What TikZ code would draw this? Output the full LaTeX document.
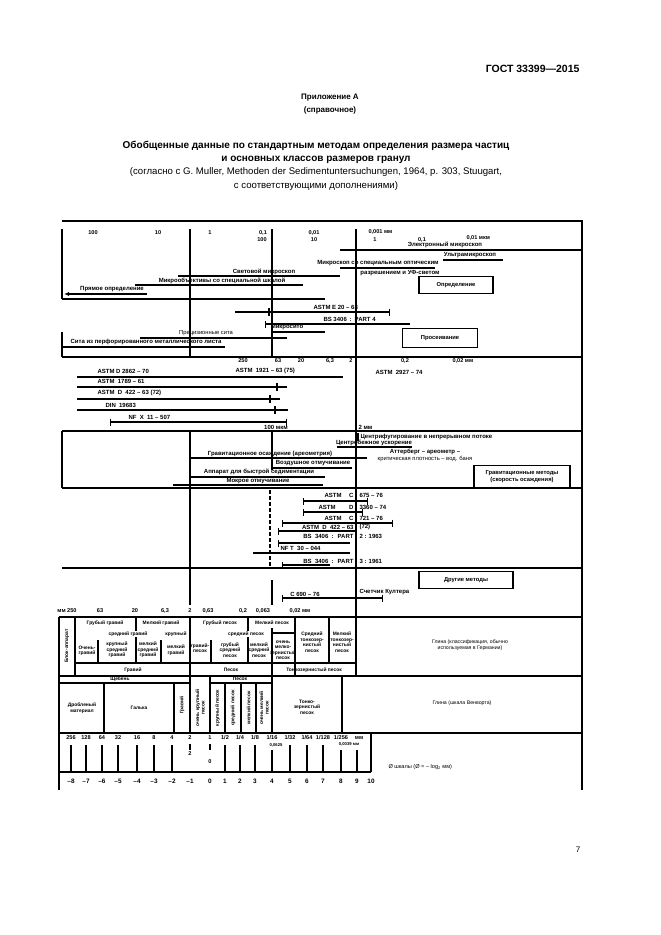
\documentclass[tikz,border=0pt]{standalone}
\usepackage{fontspec}
\setmainfont{Liberation Sans}
\usetikzlibrary{arrows.meta}
\usetikzlibrary{positioning}

\begin{document}
\begin{tikzpicture}[x=1pt, y=-1pt,
    lbl/.style={font=\fontsize{6}{6.6}\selectfont\bfseries, inner sep=0.3pt},
    thinlbl/.style={font=\fontsize{5.8}{6.4}\selectfont, inner sep=0.3pt},
    num/.style={font=\fontsize{5.6}{6.2}\selectfont\bfseries, inner sep=0.3pt},
    cell/.style={font=\fontsize{4.9}{5.5}\selectfont\bfseries, inner sep=0pt, align=center},
    hcell/.style={cell, fill=white, inner sep=0.6pt},
    vcell/.style={cell, rotate=90},
    method/.style={draw, line width=1.3pt, inner sep=0pt, align=center,
      font=\fontsize{5.8}{6.8}\selectfont\bfseries},
    frm/.style={line width=1.5pt},
    rng/.style={line width=1.1pt},
    rngb/.style={rng, {Bar[width=7pt]}-{Bar[width=7pt]}},
    rngl/.style={rng, {Bar[width=7pt]}-},
    rngr/.style={rng, -{Bar[width=7pt]}},
  ]
  \fill[white] (0,0) rectangle (661,935);
  \useasboundingbox (0,0) rectangle (661,935);

  % Page heading
  \node[anchor=east, font=\fontsize{10.5}{12}\selectfont\bfseries] (gost) at (583,69) {ГОСТ 33399—2015};
  \node[font=\fontsize{8}{13}\selectfont\bfseries, align=center] (annex) at (330,104.5) {Приложение А\\(справочное)};
  \node[font=\fontsize{10}{13}\selectfont\bfseries, align=center] (title) at (316,152.5)
    {Обобщенные данные по стандартным методам определения размера частиц\\и основных классов размеров гранул};
  \node[font=\fontsize{9.6}{13.5}\selectfont, align=center] (source) at (316,179)
    {(согласно с G. Muller, Methoden der Sedimentuntersuchungen, 1964, p. 303, Stuugart,\\с соответствующими дополнениями)};
  \node[font=\fontsize{8}{10}\selectfont] (page) at (578,850) {7};

  % Frame and separators
  \draw[frm] (62,221) -- (582,221) -- (582,790);
  \draw[frm] (62,229) -- (62,299);
  \draw[frm] (62,332) -- (62,357);
  \draw[frm] (62,431) -- (62,488);
  \draw[frm] (59,617) -- (59,790);
  \foreach \y/\xa in {357/62, 431/62, 488/62, 568/62, 617/59, 676/59, 733/59}
    \draw[frm] (\xa,\y) -- (582,\y);
  \draw[frm] (190,229) -- (190,357);
  \draw[frm] (190,431) -- (190,605);
  \draw[frm] (272,229) -- (272,357);
  \draw[frm] (272,431) -- (272,470);
  \draw[frm] (356,229) -- (356,676);

  % Microscopy scale
  \foreach \x/\t [count=\i] in {93/100, 158/10, 210/1, 263/{0,1}, 314/{0,01}}
    \node[num] (mmA\i) at (\x,233) {\t};
  \node[num, anchor=west] (mmA6) at (368,232) {0,001 мм};
  \foreach \x/\t [count=\i] in {262/100, 314/10, 375/1, 422/{0,1}}
    \node[num] (umA\i) at (\x,240) {\t};
  \node[num, anchor=west] (umA5) at (466,238) {0,01 мкм};

  % Direct determination
  \node[lbl] (elmic) at (445,245) {Электронный микроскоп};
  \draw[rng] (340,250) -- (582,250);
  \node[lbl] (ultra) at (470,255) {Ультрамикроскоп};
  \draw[rng] (443,260) -- (503,260);
  \node[lbl] (uvmic) at (378,263) {Микроскоп со специальным оптическим};
  \draw[rng] (340,268) -- (435,268);
  \node[lbl] (uvmic2) at (400,273) {разрешением и УФ-светом};
  \node[lbl] (light) at (264,272) {Световой микроскоп};
  \draw[rng] (178,276) -- (340,276);
  \node[lbl] (micro) at (222,281) {Микрообъективы со специальной шкалой};
  \draw[rng] (135,285) -- (303,285);
  \node[lbl] (direct) at (112,289) {Прямое определение};
  \draw[rng, {Latex[length=5pt,width=4pt]}-] (64,294) -- (147,294);
  \draw[frm] (62,299) -- (325,299);
  \node[method, minimum width=74pt, minimum height=17pt] (detbox) at (456,285) {Определение};

  % Sieving
  \node[lbl, anchor=west] (astmE) at (313,307) {ASTM E 20 – 68};
  \draw[rngr] (235,312) -- (390,312);
  \draw[rng] (269,308) -- (269,316);
  \node[lbl, anchor=west] (bs4) at (323,319) {BS 3406 \,:\, PART 4};
  \draw[rngl] (265,324) -- (410,324);
  \node[lbl] (msieve) at (287,327) {Микросито};
  \draw[rng] (271,332) -- (325,332);
  \node[thinlbl] (prec) at (206,333) {Прецизионные сита};
  \draw[rng] (140,338) -- (287,338);
  \node[lbl] (perf) at (146,342) {Сита из перфорированного металлического листа};
  \draw[rng] (62,347) -- (225,347);
  \node[method, minimum width=75pt, minimum height=19pt] (sievebox) at (440,338) {Просеивание};

  % Sieving standards
  \foreach \x/\t [count=\i] in {243/250, 278/63, 301/20, 330/{6,3}, 351/2, 405/{0,2}}
    \node[num] (mmC\i) at (\x,361) {\t};
  \node[num, anchor=west] (mmC7) at (452,361) {0,02 мм};
  \node[lbl, anchor=west] (astm2862) at (97,371) {ASTM D 2862 – 70};
  \node[lbl, anchor=west] (astm1921) at (235,371) {ASTM \ 1921 – 63 (75)};
  \draw[rng] (77,377) -- (343,377);
  \node[lbl, anchor=west] (astm2927) at (375,372) {ASTM \ 2927 – 74};
  \node[lbl, anchor=west] (astm1789) at (97,381) {ASTM \ 1789 – 61};
  \draw[rng] (77,387) -- (287,387);
  \draw[rng] (277,383) -- (277,391);
  \node[lbl, anchor=west] (astm422a) at (97,393) {ASTM \ D \ 422 – 63 (72)};
  \draw[rng] (77,399) -- (280,399);
  \draw[rng] (270,395) -- (270,403);
  \node[lbl, anchor=west] (din) at (105,405) {DIN \ 19683};
  \draw[rng] (77,410) -- (288,410);
  \draw[rng] (275,406) -- (275,414);
  \node[lbl, anchor=west] (nfx) at (128,417) {NF \ X \ 11 – 507};
  \draw[rngb] (110,422) -- (287,422);
  \node[lbl] (mu100) at (276,427) {100 мкм};
  \node[lbl, anchor=west] (mm2) at (358,427) {2 мм};

  % Sedimentation
  \node[lbl, anchor=west] (centcont) at (360,437) {Центрифугирование в непрерывном потоке};
  \draw[rng] (358,433) -- (358,441);
  \node[lbl] (centacc) at (374,443) {Центробежное ускорение};
  \draw[rng] (337,447) -- (412,447);
  \node[lbl] (gravsed) at (270,454) {Гравитационное осаждение (ареометрия)};
  \draw[rng] (190,458) -- (367,458);
  \node[lbl] (atterb) at (425,452) {Аттерберг – ареометр –};
  \node[thinlbl] (atterb2) at (425,459) {критическая плотность – вод. баня};
  \node[lbl] (airelu) at (313,463) {Воздушное отмучивание};
  \draw[rng] (272,468) -- (352,468);
  \node[lbl] (fastsed) at (259,472) {Аппарат для быстрой седиментации};
  \draw[rng] (190,477) -- (325,477);
  \node[lbl] (wetelu) at (258,481) {Мокрое отмучивание};
  \draw[rng] (173,485) -- (323,485);
  \node[method, minimum width=96pt, minimum height=22pt] (gravbox) at (522,476.5) {Гравитационные методы\\(скорость осаждения)};

  % Sedimentation standards
  \foreach \y/\l/\r [count=\i] in {495/{ASTM \quad C}/{675 – 76}, 507/{ASTM \qquad D}/{3360 – 74},
      518/{ASTM \quad C}/{721 – 76}, 527/{ASTM \ D \ 422 – 63}/{(72)},
      536/{BS \ 3406 \ : \ PART}/{2 : 1963}, 561/{BS \ 3406 \ : \ PART}/{3 : 1961}} {
    \node[lbl, anchor=east] (stdL\i) at (354,\y) {\l};
    \node[lbl, anchor=west] (stdR\i) at (359,\y) {\r};
  }
  \draw[rngb] (303,501) -- (368,501);
  \draw[rngb] (303,512) -- (363,512);
  \draw[rngb] (282,523) -- (393,523);
  \draw[rngl] (278,531) -- (356,531);
  \node[lbl, anchor=west] (nft) at (280,548) {NF T \ 30 – 044};
  \draw[rngl] (278,543) -- (350,543);
  \draw[rng] (253,553) -- (350,553);
  \draw[rngl] (282,565) -- (330,565);
  \draw[rng, dash pattern=on 4pt off 2pt] (270,490) -- (270,566);

  % Other methods
  \node[method, minimum width=94pt, minimum height=17pt] (otherbox) at (466,580) {Другие методы};
  \node[lbl] (c690) at (305,594) {С 690 – 76};
  \node[lbl, anchor=west] (coulter) at (359,592) {Счетчик Култера};
  \draw[rngb] (282,598) -- (383,598);
  \draw[frm] (272,580) -- (272,605);
  \foreach \x/\t [count=\i] in {67/{мм 250}, 100/63, 135/20, 165/{6,3}, 190/2, 208/{0,63},
      243/{0,2}, 263/{0,063}, 300/{0,02 мм}}
    \node[num] (mmF\i) at (\x,611) {\t};

  % Grain classes (German usage)
  \draw[frm] (75,617) -- (75,676);
  \draw[rng] (136,617) -- (136,663);
  \draw[frm] (190,617) -- (190,733);
  \draw[rng] (248,617) -- (248,663);
  \draw[frm] (272,628) -- (272,733);
  \draw[frm] (295,617) -- (295,676);
  \draw[rng] (329,617) -- (329,663);
  \foreach \x in {98,161,211}
    \draw[rng] (\x,640) -- (\x,663);
  \draw[rng] (272,633) -- (295,633);
  \draw[rng] (75,663) -- (356,663);
  \node[vcell] (blocks) at (67,646) {Блок-аппарат};
  \node[cell] (cgrav) at (105,623) {Грубый гравий};
  \node[cell] (fgrav) at (161,623) {Мелкий гравий};
  \node[cell] (csand) at (220,623) {Грубый песок};
  \node[hcell] (fsand) at (272,623) {Мелкий песок};
  \node[hcell] (mgrav) at (128,634) {средний гравий};
  \node[hcell] (lgrav) at (176,634) {крупный};
  \node[hcell] (msand) at (246,634) {средний песок};
  \node[cell] (vgrav) at (87,651) {Очень-\\гравий};
  \node[cell] (lmgrav) at (117,650) {крупный\\средний\\гравий};
  \node[cell] (smgrav) at (148,650) {мелкий\\средний\\гравий};
  \node[cell] (sgrav) at (176,650) {мелкий\\гравий};
  \node[cell] (gsand) at (200,648) {гравий-\\песок};
  \node[cell] (cmsand) at (230,650) {грубый\\средний\\песок};
  \node[cell] (smsand) at (259,650) {мелкий\\средний\\песок};
  \node[cell] (vfsand) at (283,650) {очень\\мелко-\\зернистый\\песок};
  \node[cell] (msilt) at (312,642) {Средний\\тонкозер-\\нистый\\песок};
  \node[cell] (fsilt) at (342,642) {Мелкий\\тонкозер-\\нистый\\песок};
  \node[cell] (gravel) at (133,670) {Гравий};
  \node[cell] (sand) at (231,670) {Песок};
  \node[cell] (silt) at (314,670) {Тонкозернистый песок};
  \node[cell, font=\fontsize{5.2}{6.2}\selectfont] (clayG) at (470,645) {Глина (классификация, обычно\\используемая в Германии)};

  % Grain classes (Wentworth)
  \draw[rng] (59,683) -- (190,683);
  \draw[rng] (210,683) -- (272,683);
  \draw[rng] (104,683) -- (104,733);
  \draw[rng] (174,683) -- (174,733);
  \draw[frm] (210,676) -- (210,733);
  \foreach \x in {225,241,256}
    \draw[rng] (\x,683) -- (\x,733);
  \draw[frm] (342,676) -- (342,733);
  \node[cell] (rubble) at (120,679) {Щебень};
  \node[cell] (sandW) at (240,679) {Песок};
  \node[cell] (crushed) at (82,708) {Дробленый\\материал};
  \node[cell] (pebble) at (139,708) {Галька};
  \node[vcell] (gravW) at (182,705) {Гравий};
  \node[vcell] (vcsW) at (200,708) {очень крупный\\песок};
  \node[vcell] (csW) at (217.5,708) {крупный песок};
  \node[vcell] (msW) at (233,708) {средний песок};
  \node[vcell] (fsW) at (248.5,708) {мелкий песок};
  \node[vcell] (vfsW) at (264,708) {очень мелкий\\песок};
  \node[cell] (siltW) at (307,707) {Тонко-\\зернистый\\песок};
  \node[cell, font=\fontsize{5.2}{6.2}\selectfont] (clayW) at (462,703) {Глина (шкала Венворта)};

  % Millimetre and phi scale
  \draw[frm] (371,733) -- (371,772);
  \draw[frm] (59,772) -- (371,772);
  \foreach \x/\t [count=\i] in {71/256, 86/128, 102/64, 118/32, 137/16, 154/8, 172/4, 190/2, 210/1,
      225/{1/2}, 240/{1/4}, 255/{1/8}, 272/{1/16}, 290/{1/32}, 307/{1/64}, 323/{1/128}, 341/{1/256}, 359/мм}
    \node[num] (frac\i) at (\x,738) {\t};
  \foreach \x in {71,86,102,118,137,154,172,225,240,255,290,307,323}
    \draw[rng] (\x,745) -- (\x,772);
  \foreach \x in {272,341,357}
    \draw[rng] (\x,750) -- (\x,772);
  \node[num, font=\fontsize{4.2}{5}\selectfont\bfseries] (f0625) at (276,745) {0,0625};
  \node[num, font=\fontsize{4.2}{5}\selectfont\bfseries] (f0039) at (349,744) {0,0039 мм};
  \draw[rng] (190,744) -- (190,750);
  \node[num] (twoB) at (190,754) {2};
  \draw[rng] (210,744) -- (210,750);
  \node[num] (zeroB) at (210,762) {0};
  \foreach \x/\t [count=\i] in {71/–8, 86/–7, 102/–6, 118/–5, 137/–4, 154/–3, 172/–2, 190/–1, 210/0,
      225/1, 240/2, 255/3, 272/4, 290/5, 307/6, 323/7, 341/8, 357/9, 371/10}
    \node[num, font=\fontsize{6.4}{7}\selectfont\bfseries] (phi\i) at (\x,781) {\t};
  \node[thinlbl, anchor=west, font=\fontsize{5.6}{6.2}\selectfont] (phiscale) at (388,767) {Ø шкалы (Ø = – log\textsubscript{2} мм)};

\end{tikzpicture}
\end{document}
